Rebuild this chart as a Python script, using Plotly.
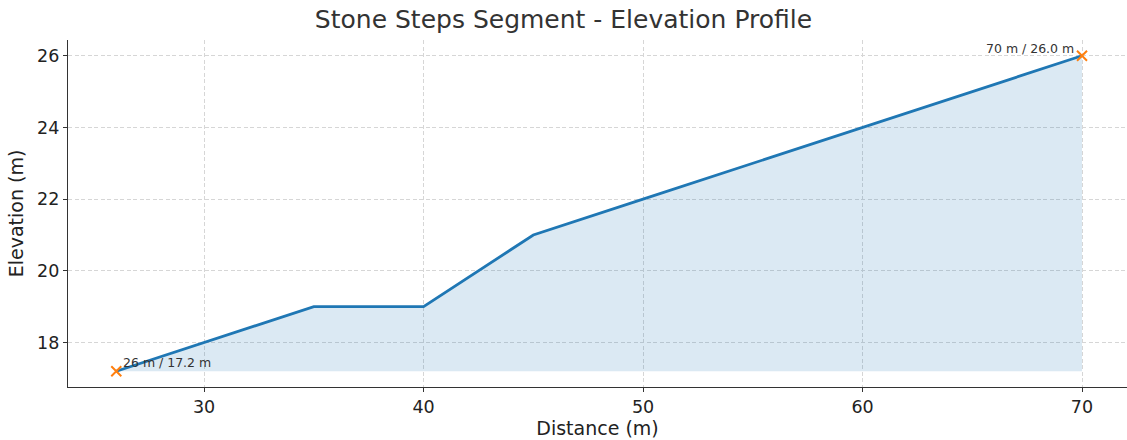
import plotly.graph_objects as go

distance = [26, 35, 40, 45, 50, 60, 70]
elevation = [17.2, 19.0, 19.0, 21.0, 22.0, 24.0, 26.0]
title = "Stone Steps Segment - Elevation Profile"
x_label = "Distance (m)"
y_label = "Elevation (m)"

base = min(elevation)
FONT = "DejaVu Sans"
fig = go.Figure()
fig.add_trace(go.Scatter(x=distance, y=[base] * len(distance), mode="lines",
                         line=dict(width=0), hoverinfo="skip", showlegend=False))
fig.add_trace(go.Scatter(x=distance, y=elevation, mode="lines",
                         line=dict(color="#1f77b4", width=2.8),
                         fill="tonexty", fillcolor="rgba(31,119,180,0.16)",
                         showlegend=False))
ends_x = [distance[0], distance[-1]]
ends_y = [elevation[0], elevation[-1]]
fig.add_trace(go.Scatter(x=ends_x, y=ends_y, mode="markers",
                         marker=dict(symbol="x-thin", size=10, color="#ff7f0e",
                                     line=dict(width=2, color="#ff7f0e")),
                         showlegend=False))
fig.add_annotation(x=ends_x[0], y=ends_y[0], text=f"{ends_x[0]} m / {ends_y[0]:.1f} m",
                   showarrow=False, xanchor="left", yanchor="bottom", xshift=5, yshift=-1,
                   font=dict(family=FONT, size=12.5, color="#333"))
fig.add_annotation(x=ends_x[1], y=ends_y[1], text=f"{ends_x[1]} m / {ends_y[1]:.1f} m",
                   showarrow=False, xanchor="right", yanchor="bottom", xshift=-6, yshift=-2,
                   font=dict(family=FONT, size=12.5, color="#333"))

axis_common = dict(showline=True, linecolor="#333", linewidth=1.3, ticks="outside",
                   ticklen=4, tickcolor="#333", showgrid=True, gridcolor="#d6d6d6",
                   griddash="4px,2.5px", gridwidth=1, zeroline=False, automargin=False,
                   tickfont=dict(family=FONT, size=17.5, color="#222"), mirror=False)
fig.update_xaxes(range=[23.8, 72.05], dtick=10, tick0=0,
                 title=dict(text=x_label, font=dict(family=FONT, size=19, color="#222"), standoff=3),
                 **axis_common)
fig.update_yaxes(range=[16.76, 26.44], dtick=2, tick0=0,
                 title=dict(text=y_label, font=dict(family=FONT, size=19, color="#222"), standoff=8),
                 **axis_common)
fig.update_layout(
    width=1127, height=440,
    margin=dict(l=68, r=0, t=40, b=53),
    plot_bgcolor="white", paper_bgcolor="white",
    title=dict(text=title, x=0.5, xanchor="center", y=1 - 19 / 440, yanchor="middle",
               yref="container", font=dict(family=FONT, size=25, color="#333")),
    font=dict(family=FONT),
)
fig.write_html("out.html", config={"displayModeBar": False},
               post_script="document.body.style.margin='0';")
